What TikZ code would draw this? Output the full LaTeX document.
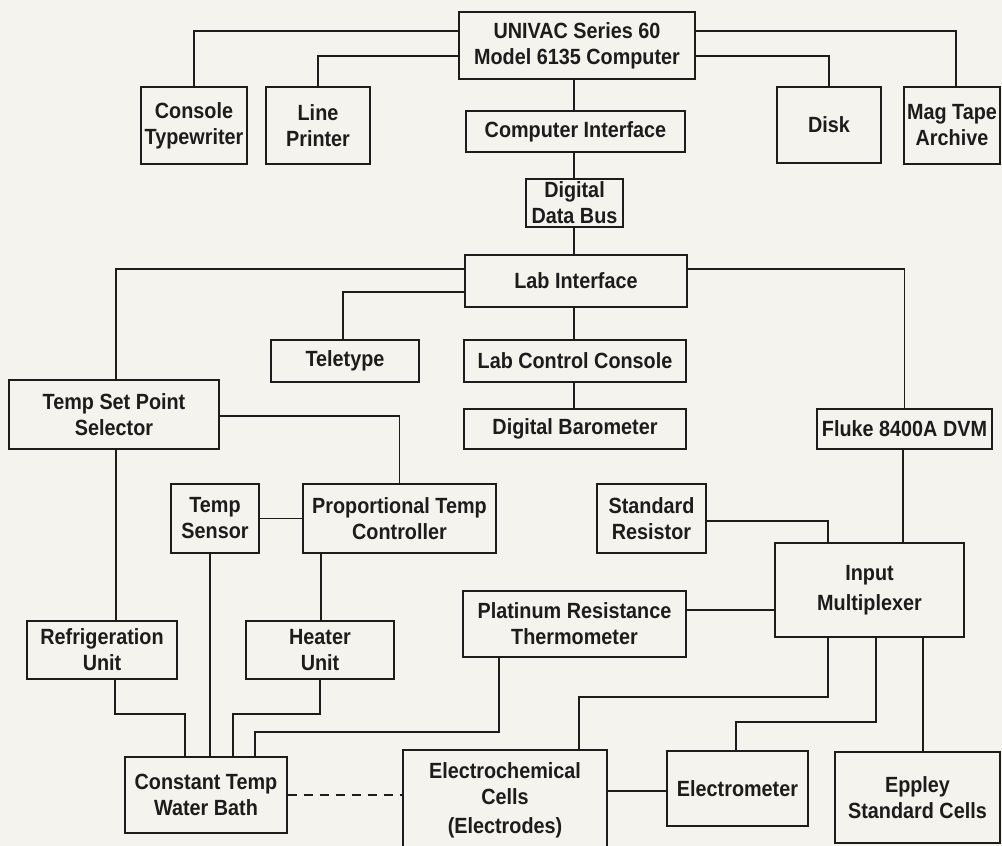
\documentclass[tikz,border=0pt]{standalone}
\usepackage{fontspec}
\newfontfamily\boxfont{Liberation Sans}[FakeStretch=0.9]
\usetikzlibrary{calc}
\definecolor{paper}{RGB}{244,243,237}
\definecolor{ink}{RGB}{28,28,28}
\tikzset{
  unit/.style={draw=ink, line width=1.7pt, inner sep=0pt, align=center, text=ink,
    font=\boxfont\bfseries\fontsize{22}{26}\selectfont},
  conn/.style={draw=ink, line width=1.7pt},
  dashconn/.style={conn, dash pattern=on 9pt off 7pt}
}
\newcommand{\mkbox}[6]{\node[unit, minimum width={(#4-#2)*1pt}, minimum height={(#5-#3)*1pt}] (#1) at ({(#2+#4)/2},{(#3+#5)/2}) {#6};}
\begin{document}
\begin{tikzpicture}[x=1pt,y=-1pt]
\fill[paper] (0,0) rectangle (1002,846);
\useasboundingbox (0,0) rectangle (1002,846);
% boxes
\mkbox{univac}{459}{12}{695}{79}{UNIVAC Series 60\\Model 6135 Computer}
\mkbox{ctw}{141}{87}{247}{164}{Console\\Typewriter}
\mkbox{lp}{266}{87}{370}{164}{Line\\Printer}
\mkbox{disk}{777}{87}{881}{163}{Disk}
\mkbox{mag}{904}{87}{1000}{164}{Mag Tape\\Archive}
\mkbox{ci}{466}{111}{685}{152}{Computer Interface}
\mkbox{ddb}{526}{179}{623}{227}{Digital\\Data Bus}
\mkbox{li}{465}{255}{687}{307}{Lab Interface}
\mkbox{tty}{271}{340}{419}{382}{Teletype}
\mkbox{lcc}{464}{340}{686}{382}{Lab Control Console}
\mkbox{db}{464}{409}{686}{449}{Digital Barometer}
\mkbox{fluke}{817}{409}{992}{449}{Fluke 8400A DVM}
\mkbox{tsp}{9}{380}{219}{449}{Temp Set Point\\Selector}
\mkbox{ts}{171}{484}{259}{553}{Temp\\Sensor}
\mkbox{ptc}{303}{484}{496}{553}{Proportional Temp\\Controller}
\mkbox{sr}{597}{484}{706}{553}{Standard\\Resistor}
\mkbox{im}{775}{543}{964}{637}{Input\\[4pt]Multiplexer}
\mkbox{prt}{463}{591}{686}{657}{Platinum Resistance\\Thermometer}
\mkbox{ru}{27}{621}{177}{679}{Refrigeration\\Unit}
\mkbox{hu}{246}{621}{394}{679}{Heater\\Unit}
\mkbox{ctwb}{125}{757}{287}{833}{Constant Temp\\Water Bath}
\mkbox{ec}{403}{750}{607}{850}{Electrochemical\\Cells\\[3pt](Electrodes)}
\mkbox{em}{667}{751}{808}{826}{Electrometer}
\mkbox{ep}{835}{752}{1000}{843}{Eppley\\Standard Cells}
% computer connections
\draw[conn] (univac.west |- 0,31) -| (ctw.north);
\draw[conn] (univac.west |- 0,56) -| (lp.north);
\draw[conn] (univac.east |- 0,56) -| (disk.north);
\draw[conn] (univac.east |- 0,31) -| (mag.north -| 956,0);
\draw[conn] (univac.south -| 574,0) -- (ci.north -| 574,0);
\draw[conn] (ci.south -| 574,0) -- (ddb.north -| 574,0);
\draw[conn] (ddb.south -| 574,0) -- (li.north -| 574,0);
\draw[conn] (li.south -| 574,0) -- (lcc.north -| 574,0);
\draw[conn] (lcc.south -| 574,0) -- (db.north -| 574,0);
% lab interface
\draw[conn] (li.west |- 0,269) -| (tsp.north -| 116,0);
\draw[conn] (li.west |- 0,292) -| (tty.north -| 343,0);
\draw[conn] (li.east |- 0,269) -| (fluke.north);
% temperature control
\draw[conn] (tsp.east |- 0,416) -| (ptc.north);
\draw[conn] (ts.east) -- (ts.east -| ptc.west);
\draw[conn] (ptc.south -| 321,0) -- (hu.north -| 321,0);
\draw[conn] (tsp.south -| 116,0) -- (ru.north -| 116,0);
\draw[conn] (ru.south -| 115,0) |- (185,714) -- (ctwb.north -| 185,0);
\draw[conn] (ts.south -| 210,0) -- (ctwb.north -| 210,0);
\draw[conn] (hu.south -| 320,0) |- (233,714) -- (ctwb.north -| 233,0);
\draw[conn] (prt.south -| 499,0) |- (255,732) -- (ctwb.north -| 255,0);
\draw[dashconn] (ctwb.east) -- (ctwb.east -| ec.west);
% measurement
\draw[conn] (sr.east |- 0,521) -| (im.north -| 828,0);
\draw[conn] (fluke.south -| 903,0) -- (im.north -| 903,0);
\draw[conn] (prt.east |- 0,610) -- (im.west |- 0,610);
\draw[conn] (im.south -| 828,0) |- (579,697) -- (ec.north -| 579,0);
\draw[conn] (im.south -| 876,0) |- (736,722) -- (em.north -| 736,0);
\draw[conn] (im.south -| 923,0) -- (ep.north -| 923,0);
\draw[conn] (ec.east |- 0,791) -- (em.west |- 0,791);
\end{tikzpicture}
\end{document}
